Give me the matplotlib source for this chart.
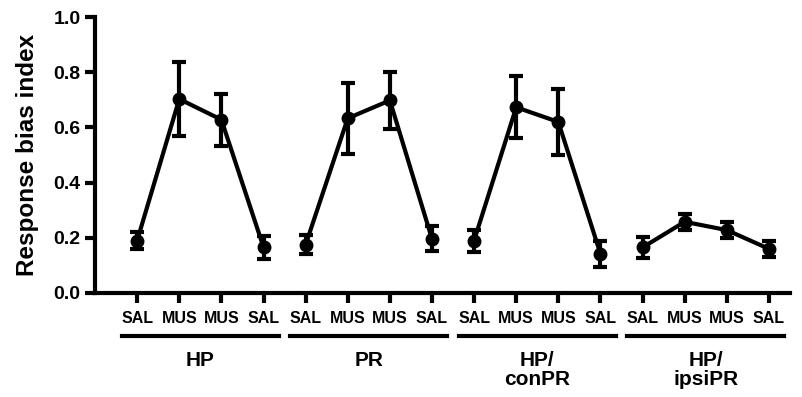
import numpy as np
import matplotlib
matplotlib.use("Agg")
import matplotlib.pyplot as plt
import matplotlib.transforms as mtransforms

plt.rcParams["font.family"] = ["Liberation Sans", "DejaVu Sans"]
plt.rcParams["font.weight"] = "bold"

groups = ["HP", "PR", "HP/\nconPR", "HP/\nipsiPR"]
conditions = ["SAL", "MUS", "MUS", "SAL"]

means = {
    "HP": [0.19, 0.703, 0.628, 0.166],
    "PR": [0.175, 0.633, 0.698, 0.196],
    "HP/\nconPR": [0.19, 0.673, 0.62, 0.142],
    "HP/\nipsiPR": [0.165, 0.258, 0.228, 0.16],
}
errs = {
    "HP": [0.032, 0.134, 0.094, 0.042],
    "PR": [0.035, 0.128, 0.104, 0.045],
    "HP/\nconPR": [0.04, 0.113, 0.12, 0.048],
    "HP/\nipsiPR": [0.037, 0.028, 0.028, 0.03],
}

fig = plt.figure(figsize=(8.02, 3.97), dpi=100)
ax = fig.add_axes([0.1185, 0.262, 0.8665, 0.695])

for i, g in enumerate(groups):
    x = np.arange(1, 5) + 4 * i
    ax.errorbar(x, means[g], yerr=errs[g], color="black", lw=3, marker="o",
                markersize=9, capsize=5, capthick=3, elinewidth=3, clip_on=False)

ticks = np.arange(1, 17)
ax.set_xticks(ticks)
ax.set_xticklabels(conditions * 4, fontsize=11.5, fontweight="bold")
ax.set_xlim(0, 16.5)
ax.set_ylim(0, 1.0)
ax.set_yticks([0, 0.2, 0.4, 0.6, 0.8, 1.0])
ax.set_yticklabels(["0.0", "0.2", "0.4", "0.6", "0.8", "1.0"], fontsize=14, fontweight="bold")
ax.set_ylabel("Response bias index", fontsize=17.5, fontweight="bold", labelpad=10)

for side in ["top", "right"]:
    ax.spines[side].set_visible(False)
for side in ["left", "bottom"]:
    ax.spines[side].set_linewidth(3)
ax.tick_params(axis="both", width=3, length=7, direction="out")
ax.tick_params(axis="x", pad=6)

# group underlines and names
trans = mtransforms.blended_transform_factory(ax.transData, ax.transAxes)
for i, g in enumerate(groups):
    x0 = 4 * i + 1 - 0.36
    x1 = 4 * i + 4 + 0.36
    ax.plot([x0, x1], [-0.157, -0.157], color="black", lw=3,
            transform=trans, clip_on=False)
    ax.text((x0 + x1) / 2, -0.21, g, transform=trans, ha="center", va="top",
            fontsize=15, fontweight="bold", linespacing=1.0)

fig.savefig("out.png", dpi=100)
